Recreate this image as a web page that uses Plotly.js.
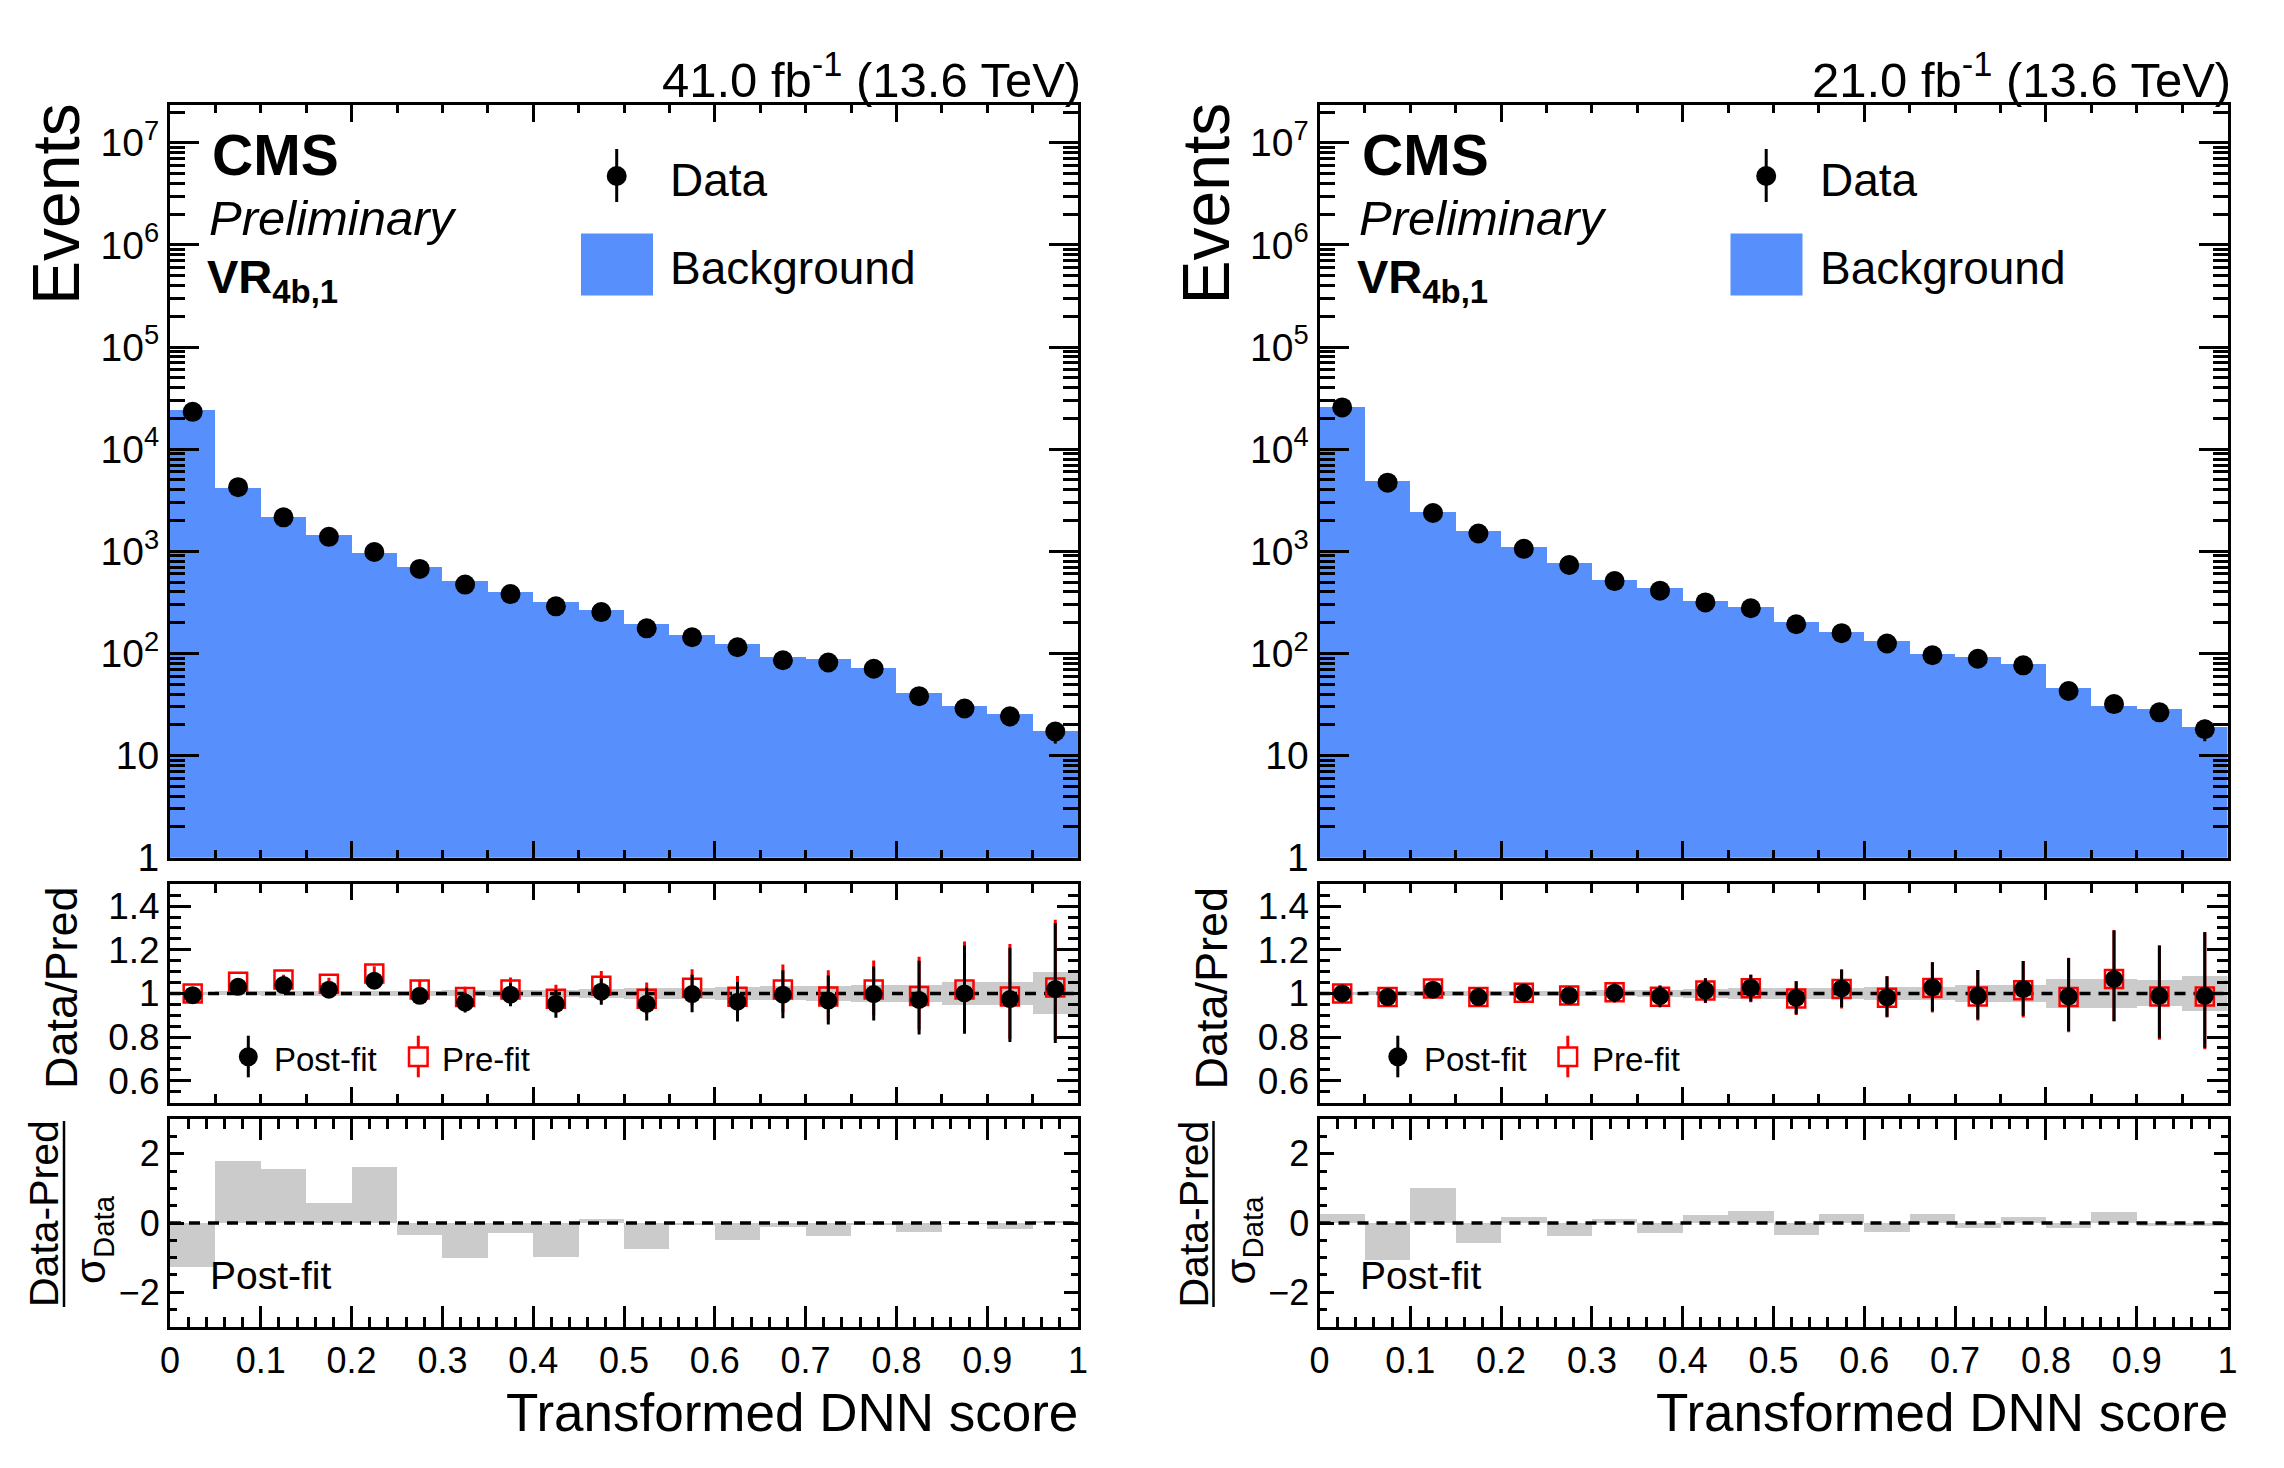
<!DOCTYPE html>
<html>
<head>
<meta charset="utf-8">
<script src="https://cdn.plot.ly/plotly-3.0.1.min.js"></script>
<style>html,body{margin:0;padding:0;background:#fff;}#plot{width:2284px;height:1468px;}</style>
</head>
<body>
<div id="plot"></div>
<script>
// ---------------- data ----------------
const binCenters = [0.025,0.075,0.125,0.175,0.225,0.275,0.325,0.375,0.425,0.475,0.525,0.575,0.625,0.675,0.725,0.775,0.825,0.875,0.925,0.975];
const binWidth = 0.05;
const xRange = [0, 1];

// Left panel (41.0 fb-1)
const bkgL  = [24400,4210,2150,1437,959,708,510,396,319,264,195,151,125,92.4,88,72.7,40.7,30.4,25.8,17.4];
const dataL = [23200,4250,2150,1385,984,673,472,381,289,254,176,144,115,85.7,81.5,70.9,38.2,28.9,24.2,17.2];
const dataErrL = [152,65,46,37,31,26,22,19.5,17,16,13.3,12,10.7,9.3,9,8.4,6.2,5.4,4.9,4.1];
const postL = [0.992,1.030,1.038,1.017,1.058,0.989,0.958,0.994,0.952,1.008,0.952,0.997,0.962,0.994,0.967,0.997,0.970,1.000,0.974,1.020];
const postUpL = [0.007,0.015,0.021,0.027,0.032,0.038,0.045,0.053,0.064,0.060,0.074,0.088,0.090,0.112,0.115,0.126,0.180,0.220,0.235,0.303];
const postDnL = [0.007,0.015,0.021,0.027,0.032,0.038,0.045,0.053,0.064,0.060,0.076,0.083,0.091,0.108,0.109,0.121,0.158,0.185,0.197,0.247];
const preL  = [1.000,1.053,1.064,1.044,1.091,1.018,0.983,1.018,0.976,1.035,0.976,1.026,0.985,1.018,0.986,1.018,0.988,1.018,0.986,1.027];
const preUpL = [0.007,0.016,0.022,0.028,0.033,0.039,0.047,0.055,0.064,0.068,0.074,0.085,0.095,0.114,0.120,0.133,0.180,0.220,0.240,0.310];
const preDnL = [0.007,0.016,0.022,0.028,0.033,0.039,0.047,0.055,0.064,0.068,0.070,0.080,0.088,0.105,0.108,0.118,0.155,0.180,0.195,0.240];
const bandL = [0.008,0.009,0.010,0.011,0.012,0.013,0.014,0.015,0.017,0.020,0.026,0.027,0.028,0.032,0.033,0.038,0.038,0.053,0.053,0.096];
const pullL = [-1.27,1.80,1.55,0.58,1.61,-0.34,-1.01,-0.28,-0.97,0.11,-0.75,-0.07,-0.48,-0.11,-0.38,-0.07,-0.25,-0.04,-0.18,0.07];

// Right panel (21.0 fb-1)
const bkgR  = [26060,4910,2414,1597,1110,772,528,440,327,282,202,161,132,98,93,79,45.8,30.3,28.3,19.0];
const dataR = [25650,4700,2373,1494,1057,735,511,412,316,277,193,158,125,96,88.7,76.5,42.9,31.9,26.5,18.1];
const dataErrR = [160,68,49,39,32.5,27,22.6,20.3,17.8,16.6,13.9,12.6,11.2,9.8,9.4,8.7,6.5,5.6,5.1,4.3];
const postR = [1.000,0.983,1.017,0.983,1.003,0.990,1.003,0.987,1.013,1.026,0.979,1.023,0.982,1.028,0.989,1.020,0.986,1.066,0.989,0.989];
const postUpR = [0.007,0.015,0.021,0.026,0.031,0.037,0.044,0.049,0.056,0.060,0.077,0.086,0.097,0.115,0.118,0.129,0.175,0.222,0.230,0.291];
const postDnR = [0.007,0.015,0.021,0.026,0.031,0.037,0.044,0.049,0.056,0.063,0.074,0.087,0.089,0.110,0.107,0.123,0.158,0.192,0.195,0.238];
const preR  = [1.000,0.983,1.023,0.983,1.003,0.990,1.005,0.985,1.013,1.024,0.977,1.020,0.980,1.025,0.986,1.015,0.983,1.066,0.986,0.986];
const preUpR = [0.007,0.016,0.022,0.027,0.032,0.038,0.045,0.050,0.057,0.062,0.079,0.089,0.099,0.118,0.121,0.133,0.180,0.225,0.234,0.295];
const preDnR = [0.007,0.016,0.022,0.027,0.032,0.038,0.045,0.050,0.057,0.064,0.076,0.089,0.091,0.113,0.110,0.126,0.161,0.195,0.198,0.242];
const bandR = [0.008,0.009,0.010,0.011,0.012,0.013,0.014,0.016,0.020,0.025,0.027,0.027,0.030,0.030,0.038,0.038,0.068,0.068,0.060,0.079];
const pullR = [0.26,-1.06,1.02,-0.57,0.17,-0.38,0.11,-0.28,0.23,0.36,-0.36,0.26,-0.26,0.26,-0.15,0.17,-0.15,0.32,-0.10,-0.08];

const lumiLabels = ["41.0 fb<sup>-1</sup> (13.6 TeV)", "21.0 fb<sup>-1</sup> (13.6 TeV)"];
const logTickVals = [1,10,100,1000,10000,100000,1000000,10000000];
const logTickText = ["1","10","10<sup>2</sup>","10<sup>3</sup>","10<sup>4</sup>","10<sup>5</sup>","10<sup>6</sup>","10<sup>7</sup>"];
const ratioTickVals = [0.6,0.8,1,1.2,1.4];
const ratioTickText = ["0.6","0.8","1","1.2","1.4"];
const pullTickVals = [-2,0,2];
const pullTickText = ["\u22122","0","2"];

// ---------------- styling ----------------
const W = 2284, H = 1468;
const F = "Liberation Sans, Arial, Helvetica, sans-serif";
const BLUE = "#5790fc";
const GREY = "#cbcbcb";
const px = x => x / W;
const py = y => 1 - y / H;

const minorLog = [];
for (let d = 0; d < 8; d++) for (let m = 2; m <= 9; m++) minorLog.push(m * Math.pow(10, d));

const panelX = [[170, 1078], [1319.5, 2227.5]];
const topY = [104.5, 857.7], ratY = [884.3, 1102.5], pullY = [1119.3, 1326.7];
const dom = (a) => [py(a[1]), py(a[0])];

const baseAxis = {
  showline: true, linecolor: "black", linewidth: 3, mirror: "allticks",
  ticks: "inside", tickcolor: "black", tickwidth: 3, showgrid: false, zeroline: false,
  tickfont: {family: F, size: 35, color: "black"}, fixedrange: true
};

const layout = {
  width: W, height: H, margin: {l: 0, r: 0, t: 0, b: 0},
  paper_bgcolor: "white", plot_bgcolor: "rgba(0,0,0,0)",
  showlegend: false, barmode: "overlay", bargap: 0,
  font: {family: F, color: "black"},
  annotations: [], shapes: []
};

const traces = [];
const sides = [
  {bkg: bkgL, data: dataL, dataErr: dataErrL, post: postL, postUp: postUpL, postDn: postDnL,
   pre: preL, preUp: preUpL, preDn: preDnL, band: bandL, pull: pullL},
  {bkg: bkgR, data: dataR, dataErr: dataErrR, post: postR, postUp: postUpR, postDn: postDnR,
   pre: preR, preUp: preUpR, preDn: preDnR, band: bandR, pull: pullR}
];

sides.forEach((s, i) => {
  const n0 = i * 3;
  const ax = k => (n0 + k === 1 ? "" : String(n0 + k));
  const xa = k => "x" + ax(k), ya = k => "y" + ax(k);
  const xd = [px(panelX[i][0]), px(panelX[i][1])];
  const dx = panelX[i][0] - panelX[0][0];

  // axes
  layout["xaxis" + ax(1)] = Object.assign({}, baseAxis, {domain: xd, anchor: ya(1), range: xRange,
    tick0: 0, dtick: 0.2, ticklen: 17, showticklabels: false,
    minor: {ticks: "inside", dtick: 0.05, tick0: 0, ticklen: 8, tickwidth: 3, tickcolor: "black"}});
  layout["yaxis" + ax(1)] = Object.assign({}, baseAxis, {domain: dom(topY), anchor: xa(1), type: "log",
    range: [0, 7.375], tickmode: "array", tickvals: logTickVals, ticktext: logTickText, ticklen: 29,
    tickfont: {family: F, size: 39, color: "black"},
    minor: {ticks: "inside", tickmode: "array", tickvals: minorLog, ticklen: 15, tickwidth: 3, tickcolor: "black"}});
  layout["xaxis" + ax(2)] = Object.assign({}, baseAxis, {domain: xd, anchor: ya(2), range: xRange,
    tick0: 0, dtick: 0.2, ticklen: 16, showticklabels: false,
    minor: {ticks: "inside", dtick: 0.05, tick0: 0, ticklen: 8.5, tickwidth: 3, tickcolor: "black"}});
  layout["yaxis" + ax(2)] = Object.assign({}, baseAxis, {domain: dom(ratY), anchor: xa(2),
    range: [0.5, 1.5], tickmode: "array", tickvals: ratioTickVals, ticktext: ratioTickText, ticklen: 21,
    tickfont: {family: F, size: 37, color: "black"},
    minor: {ticks: "inside", dtick: 0.05, tick0: 0, ticklen: 10.5, tickwidth: 3, tickcolor: "black"}});
  layout["xaxis" + ax(3)] = Object.assign({}, baseAxis, {domain: xd, anchor: ya(3), range: xRange,
    tick0: 0, dtick: 0.1, ticklen: 21, tickfont: {family: F, size: 36, color: "black"},
    minor: {ticks: "inside", dtick: 0.02, tick0: 0, ticklen: 10, tickwidth: 3, tickcolor: "black"}});
  layout["yaxis" + ax(3)] = Object.assign({}, baseAxis, {domain: dom(pullY), anchor: xa(3),
    range: [-3, 3], tickmode: "array", tickvals: pullTickVals, ticktext: pullTickText, ticklen: 14,
    tickfont: {family: F, size: 36, color: "black"},
    minor: {ticks: "inside", dtick: 0.5, tick0: 0, ticklen: 7, tickwidth: 3, tickcolor: "black"}});

  // top panel
  traces.push({type: "bar", x: binCenters, y: s.bkg, width: binWidth, xaxis: xa(1), yaxis: ya(1),
    marker: {color: BLUE, line: {width: 0}}, hoverinfo: "skip"});
  traces.push({type: "scatter", mode: "markers", x: binCenters, y: s.data, xaxis: xa(1), yaxis: ya(1),
    marker: {color: "black", size: 20},
    error_y: {type: "data", array: s.dataErr, color: "black", thickness: 3, width: 0}, hoverinfo: "skip"});

  // ratio panel
  traces.push({type: "bar", x: binCenters, y: s.band.map(h => 2 * h), base: s.band.map(h => 1 - h),
    width: binWidth, xaxis: xa(2), yaxis: ya(2), marker: {color: GREY, line: {width: 0}}, hoverinfo: "skip"});
  traces.push({type: "scatter", mode: "lines", x: xRange, y: [1, 1], xaxis: xa(2), yaxis: ya(2),
    line: {color: "black", width: 3.5, dash: "11px,8px"}, hoverinfo: "skip"});
  traces.push({type: "scatter", mode: "markers", x: binCenters, y: s.pre, xaxis: xa(2), yaxis: ya(2),
    marker: {symbol: "square-open", color: "red", size: 18, line: {color: "red", width: 2.5}},
    error_y: {type: "data", symmetric: false, array: s.preUp, arrayminus: s.preDn, color: "red", thickness: 3, width: 0},
    hoverinfo: "skip"});
  traces.push({type: "scatter", mode: "markers", x: binCenters, y: s.post, xaxis: xa(2), yaxis: ya(2),
    marker: {color: "black", size: 18},
    error_y: {type: "data", symmetric: false, array: s.postUp, arrayminus: s.postDn, color: "black", thickness: 3, width: 0},
    hoverinfo: "skip"});

  // pull panel
  traces.push({type: "bar", x: binCenters, y: s.pull, width: binWidth, xaxis: xa(3), yaxis: ya(3),
    marker: {color: GREY, line: {width: 0}}, hoverinfo: "skip"});
  traces.push({type: "scatter", mode: "lines", x: xRange, y: [0, 0], xaxis: xa(3), yaxis: ya(3),
    line: {color: "black", width: 3.5, dash: "11px,8px"}, hoverinfo: "skip"});

  // texts
  const A = (text, x, y, size, extra) => Object.assign({text, x: px(x + dx), y: py(y), xref: "paper", yref: "paper",
    showarrow: false, font: {family: F, size, color: "black"}, xanchor: "left", yanchor: "middle"}, extra || {});
  layout.annotations.push(
    A(lumiLabels[i], 1083, 76, 49, {xanchor: "right"}),
    A("<b>CMS</b>", 210, 155, 57),
    A("<i>Preliminary</i>", 207, 218, 49),
    A("<b>VR<sub>4b,1</sub></b>", 205, 280, 47),
    A("Data", 668, 180, 46),
    A("Background", 668, 268, 46),
    A("Post-fit", 272, 1059, 33),
    A("Pre-fit", 440, 1059, 33),
    A("Post-fit", 208, 1275, 39),
    A("Events", 56, 204, 66, {xanchor: "center", textangle: -90}),
    A("Data/Pred", 62, 988, 45, {xanchor: "center", textangle: -90}),
    A("Data-Pred", 44, 1214, 41, {xanchor: "center", textangle: -90}),
    A("\u03c3<sub>Data</sub>", 93, 1240, 42, {xanchor: "center", textangle: -90}),
    A("Transformed DNN score", 1080, 1412, 53, {xanchor: "right"})
  );

  // legend glyphs and title fraction bar
  const circ = (cx, cy, r, col) => ({type: "circle", xref: "paper", yref: "paper", xsizemode: "pixel", ysizemode: "pixel",
    xanchor: px(cx + dx), yanchor: py(cy), x0: -r, x1: r, y0: -r, y1: r, fillcolor: col, line: {width: 0}});
  const ln = (x0, y0, x1, y1, col, w) => ({type: "line", xref: "paper", yref: "paper",
    x0: px(x0 + dx), y0: py(y0), x1: px(x1 + dx), y1: py(y1), line: {color: col, width: w}});
  layout.shapes.push(
    ln(616.7, 149, 616.7, 202, "black", 3), circ(616.7, 176, 10, "black"),
    {type: "rect", xref: "paper", yref: "paper", x0: px(581 + dx), x1: px(653 + dx), y0: py(295.4), y1: py(233.4),
     fillcolor: BLUE, line: {width: 0}},
    ln(248.3, 1035.7, 248.3, 1077.3, "black", 3), circ(248.3, 1056.7, 9.5, "black"),
    ln(418.3, 1035.7, 418.3, 1047.5, "red", 3), ln(418.3, 1066, 418.3, 1077.3, "red", 3),
    {type: "rect", xref: "paper", yref: "paper", x0: px(409 + dx), x1: px(427.6 + dx), y0: py(1066), y1: py(1047.5),
     fillcolor: "rgba(0,0,0,0)", line: {color: "red", width: 2.5}},
    ln(64, 1121, 64, 1307, "black", 2.5)
  );
});

Plotly.newPlot("plot", traces, layout, {staticPlot: true, displayModeBar: false});
</script>
</body>
</html>
